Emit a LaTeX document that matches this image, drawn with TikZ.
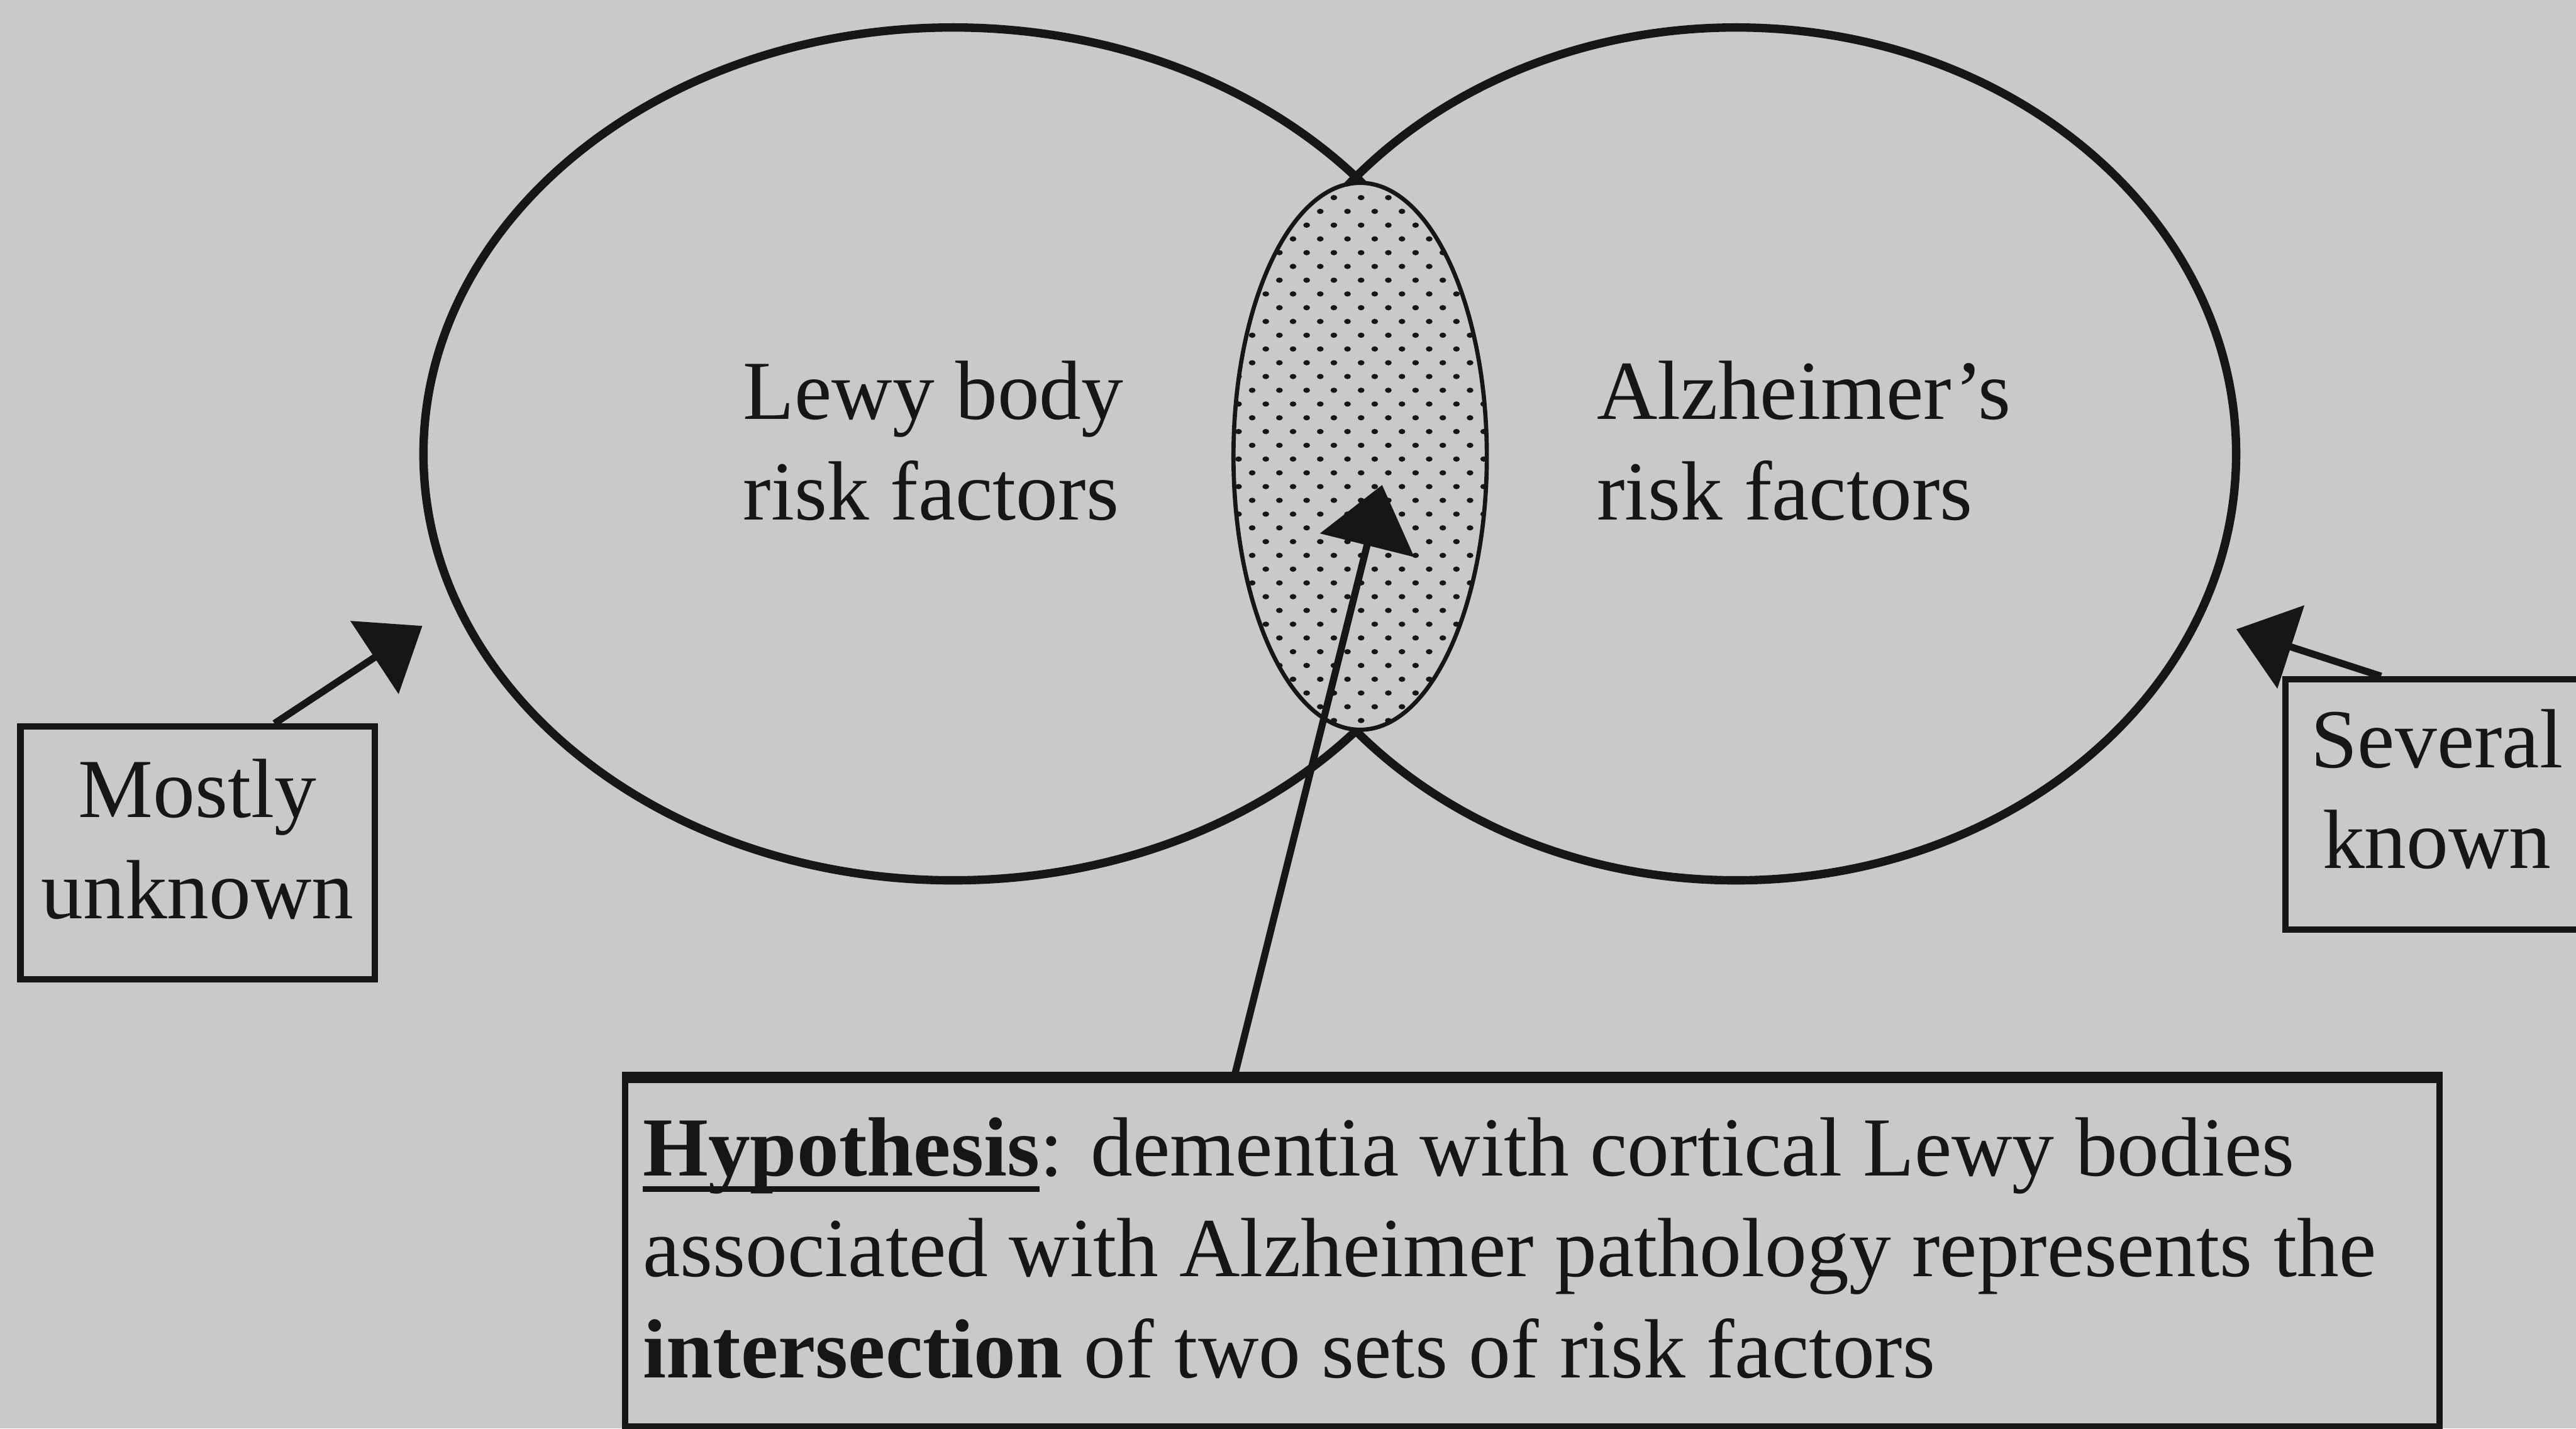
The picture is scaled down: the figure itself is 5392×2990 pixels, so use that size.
\documentclass[tikz,border=0pt]{standalone}
\usepackage{fontspec}
\setmainfont{Liberation Serif}
\usetikzlibrary{arrows.meta,calc}
\definecolor{bg}{RGB}{201,201,203}
\definecolor{ink}{RGB}{22,22,22}
\newcommand\myul[1]{\setbox0\hbox{#1}\rlap{\rule[-0.19em]{\wd0}{0.067em}}\box0}
\begin{document}
\begin{tikzpicture}[x=0.01cm,y=-0.01cm,
  txt/.style={inner sep=0pt, text=ink, font=\fontsize{50pt}{60pt}\selectfont},
  boxnode/.style={draw=ink, line width=3.8pt, inner sep=0pt},
  setline/.style={draw=ink, line width=5pt},
  arr/.style={draw=ink, line width=4.2pt, -{Triangle[length=1.2cm,width=1.8cm]}},
]
\useasboundingbox (0,0) rectangle (5392,2990);
\fill[bg] (0,0) rectangle (5392,2990);

% two sets of risk factors
\draw[setline] (1995,950) ellipse [x radius=11.08cm, y radius=8.92cm];
\draw[setline] (3634,950) ellipse [x radius=10.46cm, y radius=8.92cm];

% dotted intersection
\fill[bg] (2847,955) ellipse [x radius=2.65cm, y radius=5.72cm];
\begin{scope}
  \clip (2847,955) ellipse [x radius=2.65cm, y radius=5.72cm];
  \foreach \j in {-1,...,40}{
    \pgfmathsetmacro\yy{413.6+28.8*\j}
    \pgfmathsetmacro\xo{mod(\j+2,2)==1 ? 2763.5 : 2792}
    \foreach \i in {-5,...,6}{
      \fill[ink] (\xo+57*\i,\yy) ellipse [x radius=0.07cm, y radius=0.055cm];
    }
  }
\end{scope}
\draw[ink, line width=2.5pt] (2847,955) ellipse [x radius=2.65cm, y radius=5.72cm];

% labels inside sets (base anchor = last line baseline)
\node[txt, align=left, anchor=base west] (lewy) at (1555,1088) {Lewy body\\risk factors};
\node[txt, align=left, anchor=base west] (alz) at (3342,1088) {Alzheimer’s\\risk factors};

% side boxes
\node[boxnode, minimum width=7.41cm, minimum height=5.29cm] (mubox) at (413.5,1785.5) {};
\node[txt, align=center, anchor=base] (mutext) at (413.5,1922) {Mostly\\unknown};
\node[boxnode, minimum width=6.34cm, minimum height=5.23cm] (skbox) at (5101,1683.5) {};
\node[txt, align=center, anchor=base] (sktext) at (5101,1817) {Several\\known};

% hypothesis box
\node[boxnode, minimum width=37.95cm, minimum height=7.26cm] (hypbox) at (3207.5,2623) {};
\draw[ink, line width=5.5pt] (hypbox.north west) -- (hypbox.north east);
\node[txt, align=left, anchor=base west] (hyptext) at (1345,2883)
  {\myul{\textbf{Hypothesis}}: dementia with cortical Lewy bodies\\
   associated with Alzheimer pathology represents the\\
   \textbf{intersection} of two sets of risk factors};

% connectors
\coordinate (mutip) at (884,1310);
\coordinate (sktip) at (4681,1317);
\coordinate (hyptip) at (2893,1015);
\draw[arr] ([xshift=1.61cm]mubox.north) -- (mutip);
\draw[arr] ([xshift=-1.17cm]skbox.north) -- (sktip);
\draw[arr, -{Triangle[length=1.3cm,width=2.0cm]}] ([xshift=-6.235cm]hypbox.north) -- (hyptip);
\end{tikzpicture}
\end{document}
